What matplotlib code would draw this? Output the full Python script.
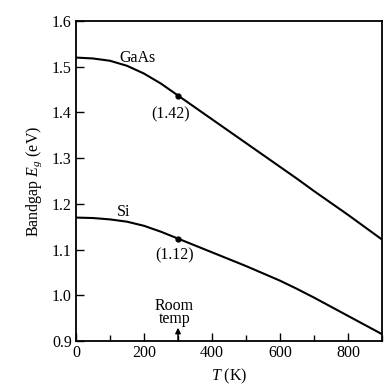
import matplotlib
matplotlib.use("Agg")
import matplotlib.pyplot as plt
from matplotlib.ticker import MultipleLocator, FormatStrFormatter

plt.rcParams['font.family'] = ['Liberation Serif', 'DejaVu Serif']
plt.rcParams['mathtext.fontset'] = 'custom'
plt.rcParams['mathtext.rm'] = 'Liberation Serif'
plt.rcParams['mathtext.it'] = 'Liberation Serif:italic'

# Data
temperature = [0, 50, 100, 150, 200, 250, 300, 350, 400, 450, 500,
               550, 600, 650, 700, 750, 800, 850, 900]
gaas_eg = [1.520, 1.518, 1.513, 1.502, 1.485, 1.463, 1.437, 1.411, 1.385, 1.359,
           1.333, 1.307, 1.281, 1.255, 1.228, 1.202, 1.176, 1.149, 1.122]
si_eg = [1.170, 1.169, 1.166, 1.161, 1.152, 1.139, 1.124, 1.109, 1.094, 1.079,
         1.064, 1.048, 1.032, 1.014, 0.995, 0.975, 0.955, 0.935, 0.915]
room_t = 300
gaas_room = 1.437
si_room = 1.124
gaas_label = "(1.42)"
si_label = "(1.12)"

FS = 11.5

fig = plt.figure(figsize=(3.89, 3.88), dpi=100)
ax = fig.add_axes([0.1954, 0.1211, 0.7866, 0.8248])

ax.plot(temperature, gaas_eg, color='black', lw=1.5)
ax.plot(temperature, si_eg, color='black', lw=1.5)
ax.plot([room_t], [gaas_room], 'o', color='black', ms=3.5)
ax.plot([room_t], [si_room], 'o', color='black', ms=3.5)

ax.text(180, 1.520, "GaAs", fontsize=FS, ha='center', va='center')
ax.text(140, 1.183, "Si", fontsize=FS, ha='center', va='center')
ax.text(278, 1.396, gaas_label, fontsize=FS, ha='center', va='center')
ax.text(289, 1.088, si_label, fontsize=FS, ha='center', va='center')
ax.text(289, 0.962, "Room\ntemp", fontsize=FS, ha='center', va='center',
        linespacing=0.8)
ax.annotate("", xy=(room_t, 0.929), xytext=(room_t, 0.902),
            arrowprops=dict(arrowstyle='-|>', color='black', lw=1.0,
                            mutation_scale=8, shrinkA=0, shrinkB=0))

ax.set_xlim(0, 900)
ax.set_ylim(0.9, 1.6)
ax.xaxis.set_major_locator(MultipleLocator(200))
ax.xaxis.set_minor_locator(MultipleLocator(100))
ax.yaxis.set_major_locator(MultipleLocator(0.1))
ax.yaxis.set_major_formatter(FormatStrFormatter('%.1f'))
ax.tick_params(axis='both', which='major', direction='in', length=6, width=1,
               labelsize=FS, top=False, right=False, pad=3)
ax.tick_params(axis='both', which='minor', direction='in', length=4, width=1,
               top=False, right=False)
for s in ax.spines.values():
    s.set_linewidth(1.3)

ax.set_xlabel("$T$ (K)", fontsize=FS, labelpad=4)
ax.set_ylabel("Bandgap $E_g$ (eV)", fontsize=FS, labelpad=6)

fig.savefig("out.png", dpi=100)
